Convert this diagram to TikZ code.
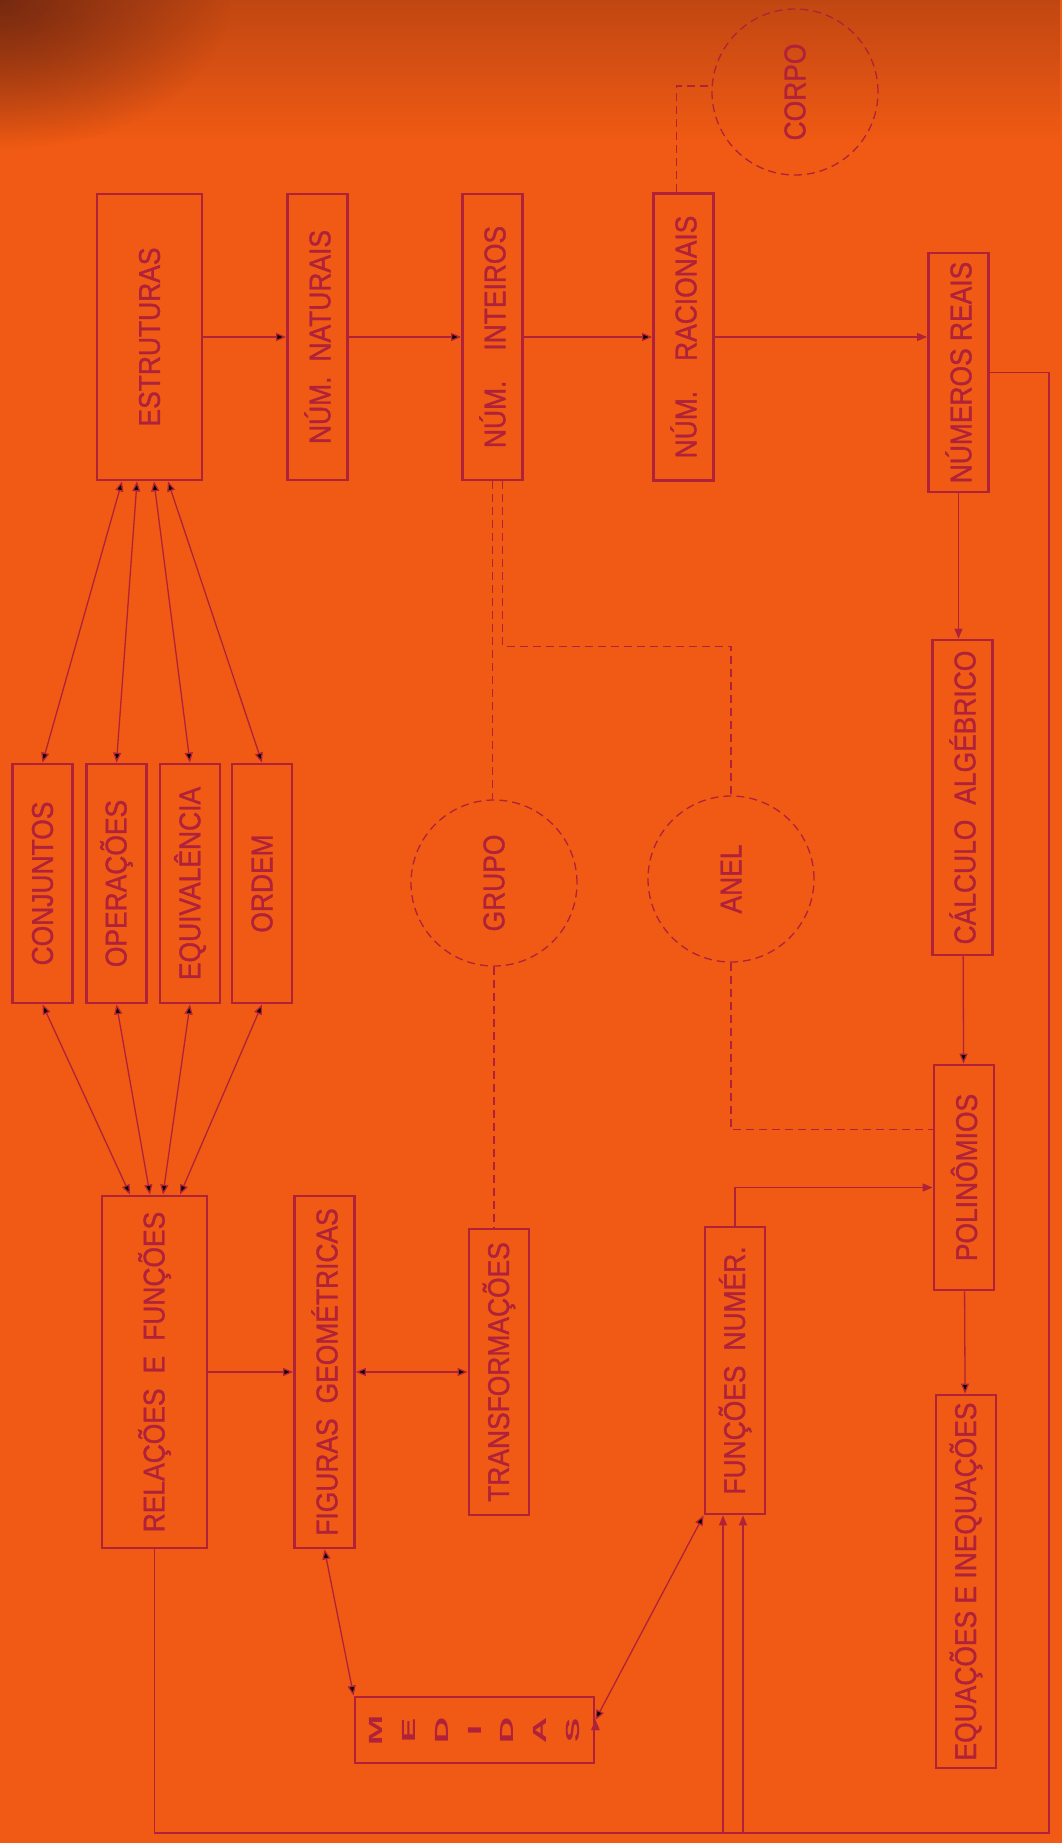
\documentclass[tikz,border=0pt]{standalone}
\usepackage{fontspec}
\usepackage{graphicx}
\newfontfamily\labelfont{Liberation Sans}[FakeStretch=0.88,FakeBold=1.2]
\newfontfamily\stackfont{Liberation Sans Bold}[FakeStretch=1.9]
\usetikzlibrary{arrows.meta,fadings}
\tikzfading[name=cornerfade,inner color=transparent!0,outer color=transparent!100]

\definecolor{paper}{RGB}{240,90,20}
\definecolor{ink}{RGB}{176,34,58}
\definecolor{shadow}{RGB}{105,36,16}

\begin{document}
\begin{tikzpicture}[x=1pt,y=-1pt,>={Triangle[length=10pt,width=8pt]},
  box/.style={draw=ink,line width=2.8pt,inner sep=0pt,text=ink,
    font=\labelfont\fontsize{30pt}{33pt}\selectfont},
  wide/.style={box,minimum width=105pt},
  slim/.style={box,minimum width=60pt},
  ring/.style={circle,draw=ink,line width=1.3pt,dash pattern=on 8pt off 5pt,
    minimum size=166pt,inner sep=0pt,text=ink,
    font=\labelfont\fontsize{30pt}{33pt}\selectfont},
  link/.style={draw=ink,line width=1.3pt},
  dlink/.style={draw=ink,line width=1.3pt,dash pattern=on 8pt off 5pt}]

 \useasboundingbox (0,0) rectangle (1062,1843);
 \clip (0,0) rectangle (1062,1843);
 \fill[paper] (0,0) rectangle (1062,1843);
 \fill[shadow,opacity=0.35,path fading=south] (0,0) rectangle (1062,140);
 \fill[shadow,opacity=0.85,path fading=cornerfade] (0,0) ellipse (230 and 150);

 \node[wide,minimum height=286pt] (estr) at (149.5,337) {\rotatebox{90}{ESTRUTURAS}};
 \node[slim,minimum height=286pt] (nat) [right of=estr,node distance=168pt] {\rotatebox{90}{NÚM.\enspace NATURAIS}};
 \node[slim,minimum height=286pt] (int) [right of=nat,node distance=175pt] {\rotatebox{90}{NÚM.\enspace\enspace INTEIROS}};
 \node[slim,minimum height=287pt] (rac) [right of=int,node distance=191pt] {\rotatebox{90}{NÚM.\enspace\enspace RACIONAIS}};
 \node[slim,minimum height=239pt] (reais) at (958.5,372.5) {\rotatebox{90}{NÚMEROS REAIS}};
 \node[ring] (corpo) at (795,92) {\rotatebox{90}{CORPO}};

 \node[slim,minimum height=239pt] (conj) at (42.5,883.5) {\rotatebox{90}{CONJUNTOS}};
 \node[slim,minimum height=239pt] (oper) [right of=conj,node distance=74pt] {\rotatebox{90}{OPERAÇÕES}};
 \node[slim,minimum height=239pt] (equi) [right of=oper,node distance=73.5pt] {\rotatebox{90}{EQUIVALÊNCIA}};
 \node[slim,minimum height=239pt] (ordem) [right of=equi,node distance=72pt] {\rotatebox{90}{ORDEM}};
 \node[ring] (grupo) at (494,883) {\rotatebox{90}{GRUPO}};
 \node[ring] (anel) at (731,879) {\rotatebox{90}{ANEL}};
 \node[slim,minimum height=315pt] (calc) at (962.5,797.5) {\rotatebox{90}{CÁLCULO\enspace ALGÉBRICO}};

 \node[slim,minimum height=225pt] (pol) at (964,1177.5) {\rotatebox{90}{POLINÔMIOS}};
 \node[wide,minimum height=352pt] (rel) at (154.5,1372) {\rotatebox{90}{RELAÇÕES\enspace E\enspace FUNÇÕES}};
 \node[slim,minimum height=352pt] (fig) [right of=rel,node distance=170pt] {\rotatebox{90}{FIGURAS\enspace GEOMÉTRICAS}};
 \node[slim,minimum height=286pt] (trans) [right of=fig,node distance=174.5pt] {\rotatebox{90}{TRANSFORMAÇÕES}};
 \node[slim,minimum height=287pt] (func) at (735,1370.5) {\rotatebox{90}{FUNÇÕES\enspace NUMÉR.}};
 \node[slim,minimum height=373pt] (eq) at (966,1581.5) {\rotatebox{90}{EQUAÇÕES E INEQUAÇÕES}};
 \node[box,minimum width=239pt,minimum height=66pt,font=\stackfont\fontsize{19pt}{32.7pt}\selectfont] (med) at (474.5,1730)
   {\rotatebox{90}{\begin{tabular}{@{}c@{}}M\\E\\D\\I\\D\\A\\S\end{tabular}}};

 \coordinate (loopR) at (1049,1833);

 \path[link,->]
    (estr)	edge (nat)
    (nat)	edge (int)
    (int)	edge (rac)
    (calc)	edge (pol)
    (pol)	edge (eq)
    (rel)	edge (fig);
 \draw[link,->] (rac.east) -- (rac.east -| reais.west);
 \draw[link,->] (reais.south) -- (reais.south |- calc.north);

 \path[link,<->]
    ([xshift=-27.5pt]estr.south)	edge (conj.north)
    ([xshift=-12.5pt]estr.south)	edge (oper.north)
    ([xshift=4.5pt]estr.south)	edge (equi.north)
    ([xshift=18.5pt]estr.south)	edge (ordem.north)
    (conj.south)	edge ([xshift=-24.5pt]rel.north)
    (oper.south)	edge ([xshift=-4.5pt]rel.north)
    (equi.south)	edge ([xshift=8.5pt]rel.north)
    (ordem.south)	edge ([xshift=25.5pt]rel.north)
    (fig)	edge (trans)
    (fig.south)	edge (med.north west)
    ([yshift=10pt]med.east)	edge (func.south west);

 \draw[link,->] (func.north) |- ([yshift=-10pt]pol.west);
 \draw[link,->] (reais.east) -| (loopR) -| ([xshift=-12pt]func.south);
 \draw[link,->] (rel.south) -- (rel.south |- loopR) -| ([xshift=8pt]func.south);

 \draw[dlink] ([xshift=-7pt]rac.north) |- ([yshift=6pt]corpo.west);
 \draw[dlink] (int.south) -- (int.south |- grupo.north);
 \draw[dlink] (grupo.south) -- (grupo.south |- trans.north);
 \draw[dlink] ([xshift=10pt]int.south) -- ++(0,165) -| (anel.north);
 \draw[dlink] (anel.south) |- ([yshift=48pt]pol.west);

\end{tikzpicture}
\end{document}
